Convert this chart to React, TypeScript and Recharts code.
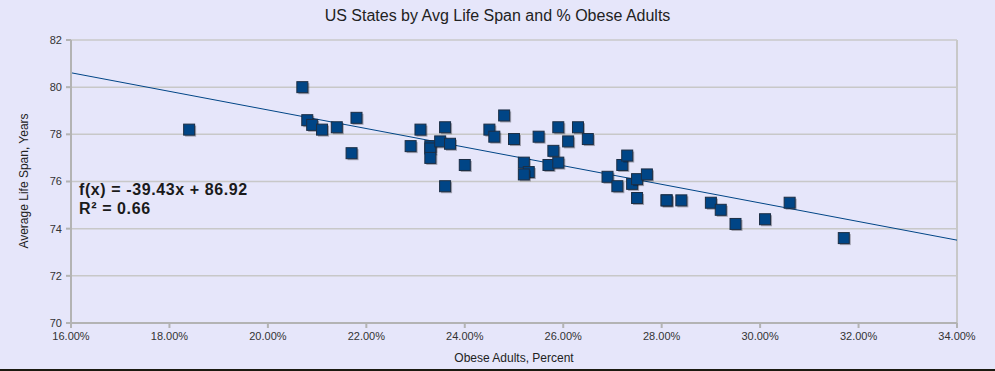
import { ScatterChart, Scatter, XAxis, YAxis, CartesianGrid, ReferenceLine } from 'recharts'

// obese adults (fraction) and average life span (years)
const OBESE = [
  0.184, 0.207, 0.208, 0.209, 0.211, 0.214, 0.218, 0.217, 0.229, 0.231,
  0.233, 0.233, 0.233, 0.235, 0.236, 0.237, 0.236, 0.240, 0.245, 0.246,
  0.248, 0.250, 0.255, 0.259, 0.261, 0.263, 0.265, 0.258, 0.257, 0.259,
  0.252, 0.253, 0.252, 0.269, 0.271, 0.272, 0.273, 0.274, 0.275, 0.277,
  0.275, 0.281, 0.281, 0.284, 0.290, 0.292, 0.295, 0.301, 0.306, 0.317,
]
const LIFE_SPAN = [
  78.2, 80.0, 78.6, 78.4, 78.2, 78.3, 78.7, 77.2, 77.5, 78.2,
  77.5, 77.4, 77.0, 77.7, 78.3, 77.6, 75.8, 76.7, 78.2, 77.9,
  78.8, 77.8, 77.9, 78.3, 77.7, 78.3, 77.8, 77.3, 76.7, 76.8,
  76.8, 76.4, 76.3, 76.2, 75.8, 76.7, 77.1, 75.9, 76.1, 76.3,
  75.3, 75.2, 75.2, 75.2, 75.1, 74.8, 74.2, 74.4, 75.1, 73.6,
]

const X_TICKS = [0.16, 0.18, 0.2, 0.22, 0.24, 0.26, 0.28, 0.3, 0.32, 0.34]
const Y_TICKS = [70, 72, 74, 76, 78, 80, 82]

// linear trend as printed on the chart
const SLOPE = -39.43
const INTERCEPT = 86.92
const R2 = 0.66

const points = OBESE.map((x, i) => ({ x, y: LIFE_SPAN[i] }))
const trend = [X_TICKS[0], X_TICKS[X_TICKS.length - 1]].map((x) => ({ x, y: INTERCEPT + SLOPE * x }))

const FONT = '"Liberation Sans", Arial, sans-serif'
const BLUE = '#004586'

function SquareMark({ cx, cy }: any) {
  if (cx == null || cy == null) return null
  const s = 11
  return (
    <g>
      <rect x={cx - s / 2 + 1.5} y={cy - s / 2 + 1.5} width={s} height={s} fill="rgba(0,0,0,0.3)" />
      <rect x={cx - s / 2} y={cy - s / 2} width={s} height={s} fill={BLUE} stroke="#1c2e44" strokeWidth={1} />
    </g>
  )
}

export default function App() {
  return (
    <div
      style={{
        position: 'absolute',
        left: 0,
        top: 0,
        width: 995,
        height: 371,
        background: '#e6e6fa',
        fontFamily: FONT,
        boxSizing: 'border-box',
        borderBottom: '2px solid #1a1a10',
      }}
    >
      <div style={{ position: 'absolute', top: 7, width: 995, textAlign: 'center', fontSize: 16, color: '#222' }}>
        US States by Avg Life Span and % Obese Adults
      </div>
      <div
        style={{
          position: 'absolute',
          left: 24,
          top: 181,
          transform: 'translate(-50%, -50%) rotate(-90deg)',
          whiteSpace: 'nowrap',
          fontSize: 12,
          color: '#222',
        }}
      >
        Average Life Span, Years
      </div>
      <ScatterChart width={995} height={369} margin={{ top: 40, right: 38, bottom: 16, left: 21 }}>
        <CartesianGrid vertical={false} stroke="#c8c8c8" strokeWidth={1.5} />
        <XAxis
          type="number"
          dataKey="x"
          domain={[0.16, 0.34]}
          ticks={X_TICKS}
          tickFormatter={(v: number) => `${(v * 100).toFixed(2)}%`}
          stroke="#b3b3b3"
          strokeWidth={2}
          tickSize={5}
          tickMargin={4}
          height={30}
          tick={{ fill: '#333', fontSize: 11, fontFamily: FONT }}
          label={{ value: 'Obese Adults, Percent', position: 'insideBottom', offset: -9, fill: '#222', fontSize: 12, fontFamily: FONT }}
        />
        <YAxis
          type="number"
          dataKey="y"
          domain={[70, 82]}
          ticks={Y_TICKS}
          stroke="#b3b3b3"
          strokeWidth={2}
          tickSize={5}
          tickMargin={4}
          width={50}
          tick={{ fill: '#333', fontSize: 11, fontFamily: FONT }}
        />
        <ReferenceLine x={0.34} stroke="#c8c8c8" strokeWidth={2} />
        <ReferenceLine segment={trend} stroke={BLUE} strokeWidth={1} ifOverflow="visible" />
        <Scatter data={points} shape={<SquareMark />} isAnimationActive={false} />
      </ScatterChart>
      <div
        style={{
          position: 'absolute',
          left: 79,
          top: 180,
          fontWeight: 'bold',
          fontSize: 16,
          lineHeight: '19px',
          color: '#1a1a1a',
          letterSpacing: 0.6,
        }}
      >
        <div>{`f(x) = ${SLOPE}x + ${INTERCEPT}`}</div>
        <div>{`R² = ${R2}`}</div>
      </div>
    </div>
  )
}
